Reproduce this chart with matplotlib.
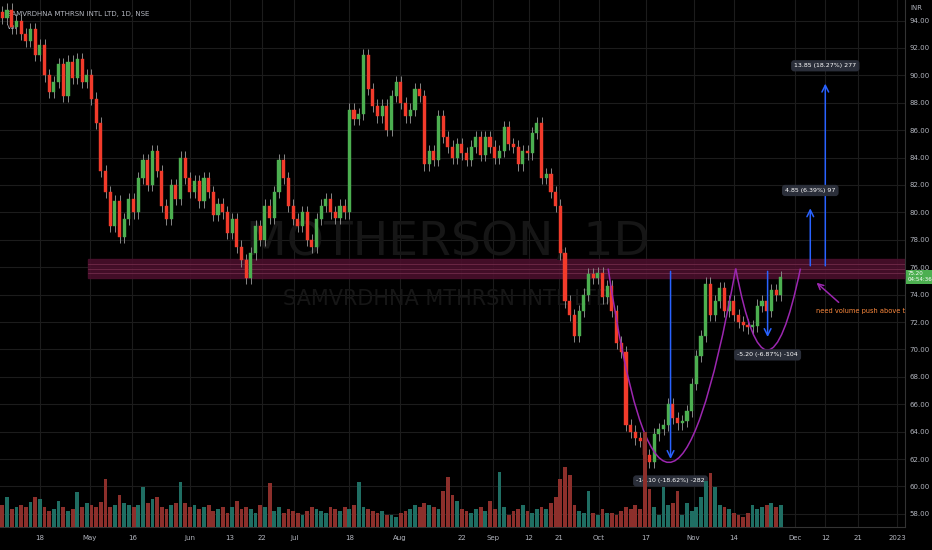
import numpy as np
import matplotlib.pyplot as plt
from matplotlib.patches import Rectangle
from matplotlib.path import Path
from matplotlib.patches import PathPatch

closes = [94.2, 94.8, 93.5, 94.0, 93.0, 92.5, 93.4, 91.5, 92.2, 90.0,
          88.8, 89.5, 90.8, 88.5, 91.0, 89.8, 91.2, 89.5, 90.0, 88.3,
          86.5, 83.0, 81.5, 79.0, 80.8, 78.2, 79.5, 81.0, 80.0, 82.5,
          83.8, 82.0, 84.5, 83.0, 80.5, 79.5, 82.0, 81.0, 84.0, 82.5,
          81.5, 82.3, 80.8, 82.5, 81.5, 79.8, 80.6, 80.0, 78.5, 79.5,
          77.5, 76.5, 75.2, 77.0, 79.0, 78.0, 80.5, 79.6, 81.5, 83.8,
          82.5, 80.5, 79.5, 79.0, 80.0, 78.0, 77.5, 79.5, 80.5, 81.0,
          80.0, 79.6, 80.5, 80.0, 87.5, 86.8, 87.2, 91.5, 89.0, 87.8,
          87.0, 87.8, 86.0, 88.5, 89.5, 88.0, 87.0, 87.5, 89.0, 88.5,
          83.5, 84.5, 83.8, 87.0, 85.5, 84.8, 84.0, 85.0, 84.3, 83.8,
          84.8, 85.5, 84.2, 85.5, 84.8, 84.0, 84.5, 86.2, 85.0, 84.8,
          83.5, 84.5, 84.3, 85.8, 86.5, 82.5, 82.8, 81.5, 80.5, 77.0,
          73.5, 72.5, 71.0, 72.8, 74.0, 75.5, 75.2, 75.6, 73.8, 74.6,
          72.8, 70.5, 69.8, 64.5, 64.0, 63.5, 63.3, 62.3, 61.8, 63.8,
          64.2, 64.5, 66.0, 65.0, 64.6, 64.8, 65.5, 67.5, 69.5, 71.0,
          74.8, 72.5, 73.5, 74.5, 72.8, 73.5, 72.5, 72.0, 71.8, 71.6,
          71.7, 73.2, 73.5, 72.8, 74.3, 74.0, 75.3]

volumes = [22, 30, 18, 20, 22, 20, 25, 30, 28, 20,
           16, 18, 26, 20, 16, 18, 35, 20, 24, 22,
           20, 25, 48, 20, 22, 32, 24, 22, 20, 22,
           40, 24, 28, 30, 20, 18, 22, 24, 45, 24,
           20, 22, 18, 20, 22, 16, 18, 20, 14, 20,
           26, 18, 20, 18, 14, 22, 20, 44, 16, 20,
           14, 18, 16, 14, 12, 16, 20, 18, 16, 14,
           20, 18, 16, 20, 18, 22, 45, 20, 18, 16,
           14, 16, 12, 12, 10, 14, 16, 18, 22, 20,
           24, 22, 20, 18, 36, 50, 32, 26, 18, 16,
           14, 18, 20, 16, 26, 18, 55, 20, 12, 16,
           18, 22, 16, 14, 18, 20, 18, 24, 30, 48,
           60, 52, 22, 16, 14, 36, 14, 12, 18, 14,
           14, 12, 16, 20, 18, 22, 18, 95, 38, 20,
           12, 40, 22, 24, 36, 12, 24, 16, 20, 30,
           46, 54, 40, 22, 20, 18, 14, 12, 10, 14,
           22, 18, 20, 22, 24, 20, 22]

tick_pos = [8, 18.7, 27.7, 40, 48.5, 55.3, 62.3, 74, 84.7, 97.9, 104.7, 112.3,
            118.7, 127.2, 137.2, 147.4, 156, 169, 175.5, 182.5, 190.8]
tick_labels = ["18", "May", "16", "Jun", "13", "22", "Jul", "18", "Aug", "22", "Sep",
               "12", "21", "Oct", "17", "Nov", "14", "Dec", "12", "21", "2023"]

price_ticks = np.arange(58, 95, 2)

up_col = "#4caf50"
down_col = "#f23b2b"
txt = "#b2b5be"

fig = plt.figure(figsize=(9.32, 5.5), dpi=100, facecolor="black")
ax = fig.add_axes([0, 23 / 550, 905 / 932, 527 / 550])
ax.set_facecolor("black")
ax.set_xlim(-0.5, 192.5)
ax.set_ylim(57.04, 95.5)

# volume on its own scale
axv = ax.twinx()
axv.set_ylim(0, 527)
axv.set_axis_off()

opens = [closes[0] + 0.4] + closes[:-1]
for i, (o, c) in enumerate(zip(opens, closes)):
    col = up_col if c >= o else down_col
    ax.vlines(i, min(o, c) - 0.45, max(o, c) + 0.45, color="#888888", lw=0.7, zorder=3)
    ax.add_patch(Rectangle((i - 0.33, min(o, c)), 0.66, max(abs(c - o), 0.15),
                           facecolor=col, edgecolor=col, lw=0.3, zorder=4))
    vcol = "#1f6e63" if c >= o else "#8c2f2b"
    axv.bar(i, volumes[i], width=0.8, color=vcol, zorder=2)

for p in price_ticks:
    ax.axhline(p, color="#1c1c1c", lw=0.8, zorder=0)
for t in tick_pos:
    ax.axvline(t, color="#1c1c1c", lw=0.8, zorder=0)

ax.set_xticks(tick_pos)
ax.set_xticklabels(tick_labels)
ax.set_yticks(price_ticks)
ax.set_yticklabels([f"{p:.2f}" for p in price_ticks])
ax.yaxis.tick_right()
ax.tick_params(colors=txt, labelsize=5, length=0)
ax.tick_params(axis="y", pad=3)
ax.tick_params(axis="x", pad=6)
for s in ax.spines.values():
    s.set_visible(False)
ax.spines["right"].set_visible(True)
ax.spines["right"].set_color("#333333")
ax.spines["bottom"].set_visible(True)
ax.spines["bottom"].set_color("#333333")
ax.text(1.006, 0.99, "INR", transform=ax.transAxes, color=txt, fontsize=5, va="top")

# resistance zone
ax.axhspan(75.2, 76.6, xmin=18.8 / 193, color="#4a0f2c", alpha=0.9, zorder=1)
for p in [75.6, 75.9, 76.2]:
    ax.plot([18.3, 192.5], [p, p], color="#7a3050", lw=0.5, zorder=1)

# watermarks
ax.text(95, 77.8, "MOTHERSON, 1D", color="#161616", fontsize=34, ha="center",
        va="center", zorder=1)
ax.text(95, 73.7, "SAMVRDHNA MTHRSN INTL LTD", color="#161616", fontsize=15,
        ha="center", va="center", zorder=1)

ax.text(0.008, 0.98, "SAMVRDHNA MTHRSN INTL LTD, 1D, NSE", transform=ax.transAxes,
        color=txt, fontsize=5, va="top")
ax.text(0.008, 0.955, "Vol", transform=ax.transAxes, color=txt, fontsize=5, va="top")

purple = "#9c27b0"


def bezier(p0, p1, p2):
    path = Path([p0, p1, p2], [Path.MOVETO, Path.CURVE3, Path.CURVE3])
    ax.add_patch(PathPatch(path, facecolor="none", edgecolor=purple, lw=1.1, zorder=5))


bezier((129.2, 75.9), (141.5, 47.6), (156.4, 75.9))
bezier((156.4, 75.9), (163, 64.0), (170.2, 75.9))

blue = "#2962ff"


def measure(x, y0, y1, label, ly):
    ax.annotate("", xy=(x, y1), xytext=(x, y0),
                arrowprops=dict(arrowstyle="->", color=blue, lw=1.1,
                                mutation_scale=12), zorder=6)
    ax.text(x, ly, label, color="white", fontsize=4.5, ha="center", va="center",
            zorder=7, bbox=dict(boxstyle="round,pad=0.5", fc="#2a2e39", ec="none"))


measure(142.5, 75.9, 61.8, "-14.10 (-18.62%) -282", 60.4)
measure(163.2, 75.9, 70.7, "-5.20 (-6.87%) -104", 69.6)
measure(172.3, 75.9, 80.5, "4.85 (6.39%) 97", 81.6)
measure(175.5, 75.9, 89.6, "13.85 (18.27%) 277", 90.7)

ax.annotate("", xy=(173.2, 75.0), xytext=(178.8, 73.3),
            arrowprops=dict(arrowstyle="->", color=purple, lw=1.1), zorder=6)
ax.text(173.5, 72.8, "need volume push above this level", color="#ff8a3d",
        fontsize=4.8, va="center", clip_on=True, zorder=6)

# last price label
ax.text(1.003, (75.3 - 57.04) / (95.5 - 57.04), "75.20\n04:54:36",
        transform=ax.transAxes, color="white", fontsize=4, va="center",
        bbox=dict(boxstyle="square,pad=0.25", fc=up_col, ec="none"))

fig.savefig("out.png", dpi=100, facecolor="black")
